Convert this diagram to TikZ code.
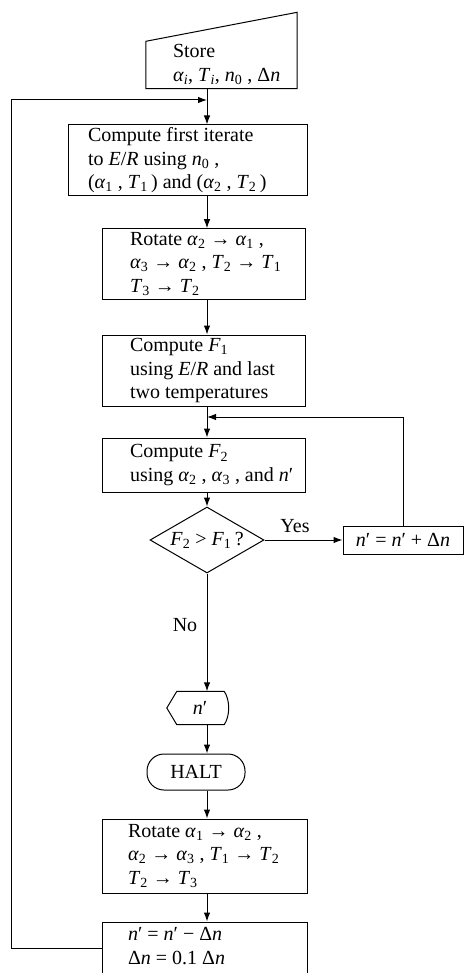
\documentclass[tikz,border=0pt]{standalone}
\usepackage{fontspec}
\setmainfont{Liberation Serif}
\usetikzlibrary{arrows.meta,shapes.geometric,calc}
\newcommand{\lftxt}[2]{\makebox[#1][l]{\begin{tabular}{@{}l@{}}#2\end{tabular}}}
\newcommand{\alp}[1]{\textit{α}\textsubscript{#1}}
\newcommand{\Tv}[1]{\textit{T}\textsubscript{#1}}
\newcommand{\Fv}[1]{\textit{F}\textsubscript{#1}}
\newcommand{\iv}[1]{\textit{#1}}
\begin{document}
\begin{tikzpicture}[x=1pt,y=-1pt,
  every node/.style={font=\fontsize{20}{23.5}\selectfont},
  box/.style={draw,line width=1pt,inner sep=0pt},
  plain/.style={draw=none,inner sep=0pt},
  line/.style={line width=1pt},
  arr/.style={line width=1pt,-{Latex[length=9pt,width=6.5pt]}}]
\useasboundingbox (0,0) rectangle (464,973);
\coordinate (sp) at (207,0);
\coordinate (lp) at (11,0);
\coordinate (j1) at (207,100);
\coordinate (j2) at (207,417);

% store (manual input)
\node[plain,minimum width=151pt,minimum height=46pt] (store) at (221.5,65)
  {\lftxt{97pt}{Store\\ \alp{\iv{i}}, \Tv{\iv{i}}, \iv{n}\textsubscript{0} , Δ\iv{n}}};
\draw[line] (store.south west) -- (store.south east) -- ($(store.north east)+(0,-29)$) -- (store.north west) -- cycle;

\node[box,minimum width=239pt,minimum height=71pt] (b1) at (187.5,160.5)
  {\lftxt{199pt}{Compute first iterate\\ to \iv{E}/\iv{R} using \iv{n}\textsubscript{0} ,\\ (\alp{1} , \Tv{1}\,) and (\alp{2} , \Tv{2}\,)}};
\node[box,minimum width=203pt,minimum height=68pt] (b2) at (203.5,264)
  {\lftxt{147pt}{Rotate \alp{2} → \alp{1} ,\\ \alp{3} → \alp{2} , \Tv{2} → \Tv{1}\\ \Tv{3} → \Tv{2}}};
\node[box,minimum width=203pt,minimum height=71pt] (b3) at (203.5,370.5)
  {\lftxt{147pt}{Compute \Fv{1}\\ using \iv{E}/\iv{R} and last\\ two temperatures}};
\node[box,minimum width=203pt,minimum height=54pt] (b4) at (203.5,465)
  {\lftxt{147pt}{Compute \Fv{2}\\ using \alp{2} , \alp{3} , and \iv{n}′}};
\node[box,shape=diamond,shape aspect=1.727,minimum width=114pt,minimum height=66pt] (dia) at (207,540)
  {\Fv{2} > \Fv{1}\,?};
\node[box,minimum width=120pt,minimum height=28pt] (b7) at (403,540)
  {\iv{n}′ = \iv{n}′ + Δ\iv{n}};
\node[plain] (yes) at (295,526) {Yes};
\node[plain] (no) at (185,625) {No};
\node[plain,minimum width=60pt,minimum height=33pt] (disp) at (197,708) {\hspace*{6pt}\iv{n}′};
\draw[line] (disp.west) -- ($(disp.north west)+(10,0)$) -- ($(disp.north east)+(-3,0)$)
  .. controls ($(disp.east)+(3,-8)$) and ($(disp.east)+(3,8)$) .. ($(disp.south east)+(-3,0)$)
  -- ($(disp.south west)+(10,0)$) -- cycle;
\node[box,rounded corners=17pt,minimum width=98pt,minimum height=36pt] (halt) at (196,772) {HALT};
\node[box,minimum width=205pt,minimum height=74pt] (b5) at (204.5,856)
  {\lftxt{153pt}{Rotate \alp{1} → \alp{2} ,\\ \alp{2} → \alp{3} , \Tv{1} → \Tv{2}\\ \Tv{2} → \Tv{3}}};
\node[box,minimum width=205pt,minimum height=52pt] (b6) at (204.5,948)
  {\lftxt{153pt}{\iv{n}′ = \iv{n}′ − Δ\iv{n}\\ Δ\iv{n} = 0.1 Δ\iv{n}}};

% connectors
\draw[arr] (store.south -| sp) -- (b1.north -| sp);
\draw[arr] (b1.south -| sp) -- (b2.north -| sp);
\draw[arr] (b2.south -| sp) -- (b3.north -| sp);
\draw[arr] (b3.south -| sp) -- (b4.north -| sp);
\draw[arr] (b4.south -| sp) -- (dia.north);
\draw[arr] (dia.east) -- (b7.west);
\draw[arr] (b7.north) |- (j2);
\draw[arr] (dia.south) -- (disp.north -| sp);
\draw[arr] (disp.south -| sp) -- (halt.north -| sp);
\draw[arr] (halt.south -| sp) -- (b5.north -| sp);
\draw[arr] (b5.south -| sp) -- (b6.north -| sp);
\draw[arr] (b6.west) -- (b6.west -| lp) |- (j1);
\end{tikzpicture}
\end{document}
